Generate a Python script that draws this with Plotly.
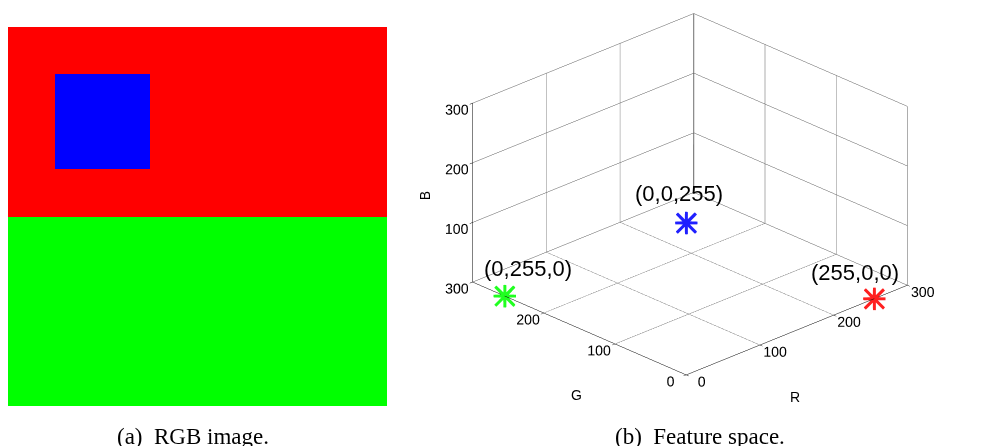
import math
import plotly.graph_objects as go

# ---------------- data ----------------
# (a) RGB image: 8x8 pixel grid, one letter per pixel
image_rows = [
    "RRRRRRRR",
    "RBBRRRRR",
    "RBBRRRRR",
    "RRRRRRRR",
    "GGGGGGGG",
    "GGGGGGGG",
    "GGGGGGGG",
    "GGGGGGGG",
]
pixel_rgb = {"R": [255, 0, 0], "G": [0, 255, 0], "B": [0, 0, 255]}

# (b) feature space points
point_r = [255, 0, 0]
point_g = [0, 255, 0]
point_b = [0, 0, 255]
point_labels = ["(255,0,0)", "(0,255,0)", "(0,0,255)"]
point_colors = ["#ff2020", "#20ff20", "#2020ff"]
axis_ticks = [0, 100, 200, 300]
axis_titles = ["R", "G", "B"]
captions = ["(a)  RGB image.", "(b)  Feature space."]

# ---------------- layout helpers (page has an 8px body margin) ----------------
W, H = 990, 438
OFF = 8


def px(X):
    return (X - OFF) / W


def py(Y):
    return 1 - (Y - OFF) / H


img = [[pixel_rgb[c] for c in row] for row in image_rows]

fig = go.Figure()
fig.add_trace(go.Image(z=img, xaxis="x", yaxis="y", hoverinfo="skip"))

# back vertical edge of the box
amax = max(axis_ticks)
fig.add_trace(go.Scatter3d(x=[amax, amax], y=[amax, amax], z=[0, amax], mode="lines",
                           line=dict(color="black", width=1.5), showlegend=False, hoverinfo="skip"))

# asterisk markers ('+' and 'x' overlaid)
for glyph, gsize in [("+", 36), ("\u00d7", 38)]:
    fig.add_trace(go.Scatter3d(
        x=point_r, y=point_g, z=point_b, mode="text",
        text=[glyph] * len(point_r), textposition="middle center",
        textfont=dict(family="DejaVu Sans", size=gsize, color=point_colors),
        showlegend=False, hoverinfo="skip",
    ))

label_font = dict(family="Liberation Sans, Arial", size=22, color="black")
label_shifts = [(-19, 26), (23, 27), (-7, 29)]
annotations3d = [
    dict(x=r, y=g, z=b, text=t, showarrow=False, xshift=sx, yshift=sy, font=label_font)
    for r, g, b, t, (sx, sy) in zip(point_r, point_g, point_b, point_labels, label_shifts)
]

# axis titles placed like MATLAB's (below the floor axes, left of the vertical axis)
title_font = dict(family="Liberation Sans, Arial", size=14, color="black")
annotations3d += [
    dict(x=amax / 2, y=0, z=0, text=axis_titles[0], showarrow=False, xshift=-2, yshift=-67, font=title_font),
    dict(x=0, y=amax / 2, z=0, text=axis_titles[1], showarrow=False, xshift=-3, yshift=-67, font=title_font),
    dict(x=0, y=amax, z=amax / 2, text=axis_titles[2], showarrow=False, xshift=-48, yshift=-3,
         textangle=-90, font=title_font),
]

axis_common = dict(
    range=[0, amax], tickvals=axis_ticks, ticktext=[str(v) for v in axis_ticks],
    showbackground=False, showgrid=True, gridcolor="#5a5a5a", gridwidth=1,
    zeroline=False, showline=True, linecolor="black", linewidth=1,
    ticks="outside", ticklen=4, tickcolor="black", tickangle=0,
    tickfont=dict(family="Liberation Sans, Arial", size=13, color="black"),
    showspikes=False, title=dict(text=""),
)

ax_ratio = 1.404
az_ratio = 0.90
phi = math.radians(46.0)
h = 1.6
cz = -0.165
ez = cz + 0.740
fig.update_layout(
    width=W, height=H, autosize=False,
    margin=dict(l=0, r=0, t=0, b=0),
    paper_bgcolor="white", plot_bgcolor="white",
    showlegend=False,
    xaxis=dict(domain=[0, px(387)], visible=False),
    yaxis=dict(domain=[py(406), py(27)], visible=False),
    scene=dict(
        domain=dict(x=[px(410), px(970)], y=[0, 1]),
        xaxis=axis_common, yaxis=axis_common, zaxis=axis_common,
        aspectmode="manual", aspectratio=dict(x=ax_ratio, y=ax_ratio, z=az_ratio),
        camera=dict(projection=dict(type="orthographic"),
                    eye=dict(x=-h * math.cos(phi), y=-h * math.sin(phi), z=ez),
                    up=dict(x=0, y=0, z=1), center=dict(x=0, y=0, z=cz)),
        annotations=annotations3d,
        bgcolor="white",
    ),
    annotations=[
        dict(x=px(192.5), y=py(436), xref="paper", yref="paper", xanchor="center", yanchor="middle",
             text=captions[0], showarrow=False,
             font=dict(family="Liberation Serif, Times New Roman", size=23, color="black")),
        dict(x=px(699.5), y=py(436), xref="paper", yref="paper", xanchor="center", yanchor="middle",
             text=captions[1], showarrow=False,
             font=dict(family="Liberation Serif, Times New Roman", size=23, color="black")),
    ],
)

fig.write_html("out.html")
